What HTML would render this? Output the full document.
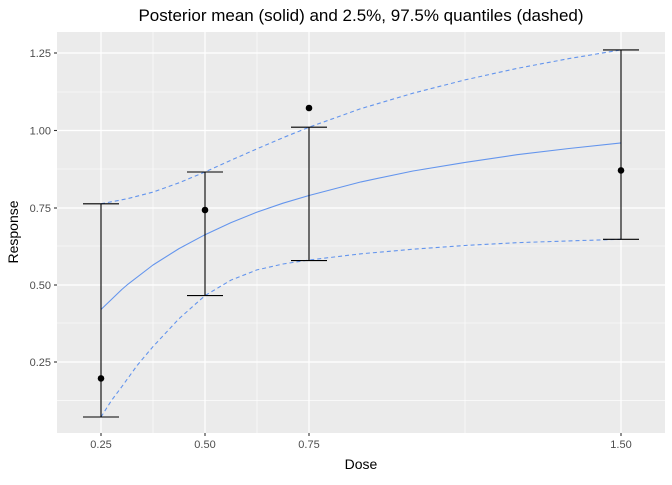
<!DOCTYPE html>
<html><head><meta charset="utf-8"><style>
html,body{margin:0;padding:0;background:#fff;}
text{font-family:"Liberation Sans",sans-serif;}
</style></head><body>
<svg width="672" height="480" viewBox="0 0 672 480" xmlns="http://www.w3.org/2000/svg">
<rect x="0" y="0" width="672" height="480" fill="#fff"/>
<rect x="57" y="32" width="608" height="401" fill="#ebebeb"/>
<g stroke="#fff" stroke-width="0.6">
<line x1="57" x2="665" y1="92" y2="92"/><line x1="57" x2="665" y1="169" y2="169"/>
<line x1="57" x2="665" y1="246" y2="246"/><line x1="57" x2="665" y1="323" y2="323"/>
<line x1="57" x2="665" y1="400.6" y2="400.6"/>
<line x1="153" x2="153" y1="32" y2="433"/><line x1="257" x2="257" y1="32" y2="433"/>
<line x1="465" x2="465" y1="32" y2="433"/>
</g>
<g stroke="#fff" stroke-width="1.2">
<line x1="57" x2="665" y1="53" y2="53"/><line x1="57" x2="665" y1="130.5" y2="130.5"/>
<line x1="57" x2="665" y1="208" y2="208"/><line x1="57" x2="665" y1="285" y2="285"/>
<line x1="57" x2="665" y1="362" y2="362"/>
<line x1="101" x2="101" y1="32" y2="433"/><line x1="205" x2="205" y1="32" y2="433"/>
<line x1="309" x2="309" y1="32" y2="433"/><line x1="621" x2="621" y1="32" y2="433"/>
</g>
<g fill="none" stroke="#6495ed" stroke-width="1.1" stroke-linejoin="round">
<polyline points="101,309.5 121.8,289.5 127,285 153,265 179,248.6 205,234.7 231,222.6 257,212.1 283,203.2 309,195.5 361,181.9 413,171 465,162.4 517,154.7 569,148.5 621,142.9"/>
<polyline stroke-dasharray="4,3" points="101,203.8 127,198.8 153,192.1 179,182.8 205,172 231,160.2 257,148.8 283,137.7 309,127.2 361,108.6 413,93.2 465,79.9 517,68.4 569,58.6 621,49.9"/>
<polyline stroke-dasharray="4,3" points="101,417 111.4,400.6 121.8,386.7 137.4,365.1 153,346.6 179,318.7 205,295.6 231,280.1 257,269.9 283,264 309,260 361,253.8 413,249.2 465,245.5 517,242.7 569,240.9 621,239.3"/>
</g>
<g stroke="#000" stroke-width="1.1">
<line x1="101" x2="101" y1="203.8" y2="417"/><line x1="83" x2="119" y1="203.8" y2="203.8"/><line x1="83" x2="119" y1="417" y2="417"/>
<line x1="205" x2="205" y1="172" y2="295.6"/><line x1="187" x2="223" y1="172" y2="172"/><line x1="187" x2="223" y1="295.6" y2="295.6"/>
<line x1="309" x2="309" y1="127.2" y2="260.6"/><line x1="291" x2="327" y1="127.2" y2="127.2"/><line x1="291" x2="327" y1="260.6" y2="260.6"/>
<line x1="621" x2="621" y1="49.9" y2="239.3"/><line x1="603" x2="639" y1="49.9" y2="49.9"/><line x1="603" x2="639" y1="239.3" y2="239.3"/>
</g>
<g fill="#000">
<circle cx="101" cy="378.4" r="3.3"/><circle cx="205" cy="210" r="3.3"/>
<circle cx="309" cy="108" r="3.3"/><circle cx="621" cy="170.4" r="3.3"/>
</g>
<g stroke="#333" stroke-width="1.1">
<line x1="54" x2="57" y1="53" y2="53"/><line x1="54" x2="57" y1="130.5" y2="130.5"/>
<line x1="54" x2="57" y1="208" y2="208"/><line x1="54" x2="57" y1="285" y2="285"/>
<line x1="54" x2="57" y1="362" y2="362"/>
<line x1="101" x2="101" y1="433" y2="436"/><line x1="205" x2="205" y1="433" y2="436"/>
<line x1="309" x2="309" y1="433" y2="436"/><line x1="621" x2="621" y1="433" y2="436"/>
</g>
<g fill="#4d4d4d" font-size="11" text-anchor="end">
<text x="51" y="57">1.25</text><text x="51" y="134.5">1.00</text>
<text x="51" y="212">0.75</text><text x="51" y="289">0.50</text><text x="51" y="366">0.25</text>
</g>
<g fill="#4d4d4d" font-size="11" text-anchor="middle">
<text x="101" y="448">0.25</text><text x="205" y="448">0.50</text>
<text x="309" y="448">0.75</text><text x="621" y="448">1.50</text>
</g>
<text x="361" y="469" font-size="14" text-anchor="middle" fill="#000">Dose</text>
<text transform="translate(18,232) rotate(-90)" font-size="14" text-anchor="middle" fill="#000">Response</text>
<text x="361" y="21" font-size="17" text-anchor="middle" fill="#000">Posterior mean (solid) and 2.5%, 97.5% quantiles (dashed)</text>
</svg>
</body></html>
